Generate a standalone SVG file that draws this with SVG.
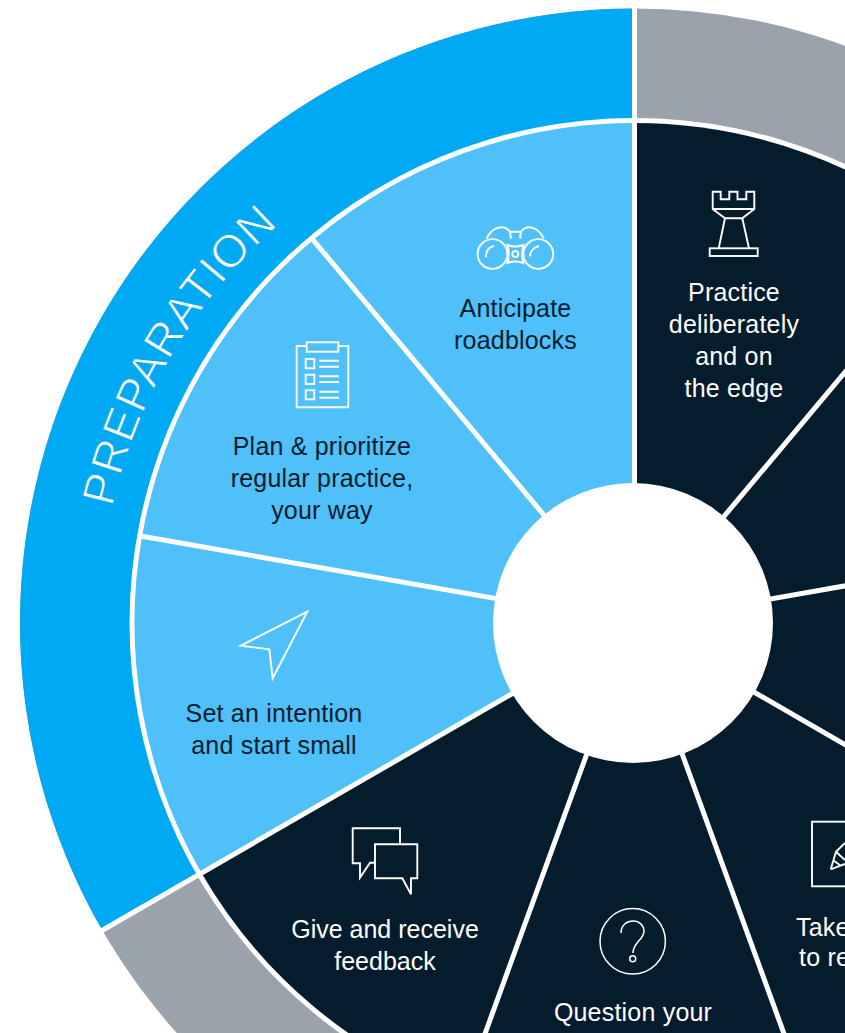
<svg xmlns="http://www.w3.org/2000/svg" width="845" height="1033" viewBox="0 0 845 1033">
<style>
.light{fill:#4fc0fa}
.dark{fill:#051c2c}
.lbl{font-family:"Liberation Sans",Arial,sans-serif;font-size:25px;text-anchor:middle;letter-spacing:.2px}
.lblL{fill:#051c2c}
.lblD{fill:#fff}
.ic{fill:none;stroke:#fff;stroke-width:1.9;stroke-linejoin:miter}
.div{stroke:#fff;stroke-width:5;fill:none}
</style>
<rect width="845" height="1033" fill="#fff"/>
<g id="ring">
<circle cx="634.5" cy="623" r="614.5" fill="#9aa3ab"/>
<path d="M634.5,8.5A614.5,614.5 0 0 0 102.3,930.25L634.5,623Z" fill="#00a9f4"/>
<circle cx="634.5" cy="623" r="505" fill="#fff"/>
<defs><path id="prepArc" d="M112.6,507.6A533,533 0 0 1 366.5,161.4"/></defs>
<text font-family="Liberation Sans,Arial,sans-serif" font-size="46" fill="#fff" stroke="#00a9f4" stroke-width="1" letter-spacing="1"><textPath href="#prepArc">PREPARATION</textPath></text>
</g>
<g id="wedge-roadblocks">
<path class="light" d="M634.5,623L313.1,240A500,500 0 0 1 634.5,123Z"/>
<g class="ic">
<circle cx="492.5" cy="254" r="14.9"/><circle cx="538.3" cy="254" r="14.9"/>
<circle cx="515.3" cy="254" r="3"/>
<path d="M486.7,238.3C490,231 496,227.3 501,227.3C505,227.3 508,229 510,231.7H521C523,229 525,227.3 529,227.3C534,227.3 540,231 543.7,238.3"/>
<path d="M510,231.7L511,238.5M521,231.7L520,238.5"/>
<path d="M507.5,245Q515.4,248 523.3,245Q521,254 523.3,263Q515.4,260 507.5,263Q510,254 507.5,245Z"/>
<path d="M486,257.3C486,251 489,247 494,246M530,256.5C530,251 534,247 539,246"/>
</g>
<text class="lbl lblL" x="515.5" y="317">Anticipate</text>
<text class="lbl lblL" x="515.5" y="349">roadblocks</text>
</g>
<g id="wedge-plan">
<path class="light" d="M634.5,623L142.1,536.2A500,500 0 0 1 313.1,240Z"/>
<g class="ic">
<path d="M306.7,346H296.7V407.3H348.3V346H338.3"/>
<rect x="306.7" y="342.3" width="31.6" height="9.4"/>
<rect x="305.7" y="359" width="8.6" height="9.3"/><rect x="305.7" y="374.7" width="8.6" height="9.3"/><rect x="305.7" y="390.3" width="8.6" height="9"/>
<path d="M319.3,360.7H339M319.3,366.7H339M319.3,376.3H339M319.3,382H339M319.3,391.7H339M319.3,397.7H339"/>
</g>
<text class="lbl lblL" x="322" y="455">Plan &amp; prioritize</text>
<text class="lbl lblL" x="322" y="487">regular practice,</text>
<text class="lbl lblL" x="322" y="519">your way</text>
</g>
<g id="wedge-intention">
<path class="light" d="M634.5,623L201.5,873A500,500 0 0 1 142.1,536.2Z"/>
<path class="ic" d="M307.3,611.7L240.7,645.7L269.3,649.3L272.7,678.3Z"/>
<text class="lbl lblL" x="274" y="722">Set an intention</text>
<text class="lbl lblL" x="274" y="754">and start small</text>
</g>
<g id="wedge-feedback">
<path class="dark" d="M634.5,623L463.5,1092.8A500,500 0 0 1 201.5,873Z"/>
<g class="ic">
<path d="M400,844V828.3H352.7V863.3H360V877.7L370,862.7H375"/>
<path d="M375,844.3H417.3V878.3H411V894.3L402.3,878.3H375Z"/>
</g>
<text class="lbl lblD" x="385" y="938" style="letter-spacing:0">Give and receive</text>
<text class="lbl lblD" x="385" y="970" style="letter-spacing:0">feedback</text>
</g>
<g id="wedge-question">
<path class="dark" d="M634.5,623L805.5,1092.8A500,500 0 0 1 463.5,1092.8Z"/>
<g class="ic" style="stroke-width:1.5">
<circle cx="632.7" cy="941.3" r="32.7"/>
<path d="M621,933C621,925 627,921 633,921C640,921 644,926 644,931C644,940 633,942 633,953"/>
<circle cx="632.7" cy="958.7" r="3"/>
</g>
<text class="lbl lblD" x="633" y="1021">Question your</text>
</g>
<g id="wedge-reflect">
<path class="dark" d="M634.5,623L1067.5,873A500,500 0 0 1 805.5,1092.8Z"/>
<g class="ic">
<rect x="812" y="821.7" width="64" height="64.6"/>
<path d="M830.7,869.3L836,851.7L845,843M830.7,869.3L845,864M836,851.7L845,860M833,860L841,866"/>
</g>
<text class="lbl lblD" x="796" y="936" style="text-anchor:start">Take</text>
<text class="lbl lblD" x="799" y="966" style="text-anchor:start">to re</text>
</g>
<g id="wedge-right-lower"><path class="dark" d="M634.5,623L1126.9,536.2A500,500 0 0 1 1067.5,873Z"/></g>
<g id="wedge-right-upper"><path class="dark" d="M634.5,623L955.9,240A500,500 0 0 1 1126.9,536.2Z"/></g>
<g id="wedge-practice">
<path class="dark" d="M634.5,623L634.5,123A500,500 0 0 1 955.9,240Z"/>
<g class="ic">
<path d="M712.7,191.7H720.7V199.3H729.3V191.7H737.5V199.3H746.3V191.7H754.3V209L742.3,218.3H725L712.7,209Z"/>
<path d="M712.7,209H754.3M725,218.3L718.7,248.3M742.3,218.3L749,248.3"/>
<rect x="709.7" y="248.3" width="48" height="7.7"/>
</g>
<text class="lbl lblD" x="734" y="301">Practice</text>
<text class="lbl lblD" x="734" y="333">deliberately</text>
<text class="lbl lblD" x="734" y="365">and on</text>
<text class="lbl lblD" x="734" y="397">the edge</text>
</g>
<g id="connectors">
<path class="div" d="M634.5,623V0M634.5,623L97.6,933M634.5,623L313.1,240M634.5,623L142.1,536.2M634.5,623L463.5,1092.8M634.5,623L805.5,1092.8M634.5,623L1067.5,873M634.5,623L1126.9,536.2M634.5,623L955.9,240"/>
</g>
<circle id="hub" cx="633" cy="623" r="140" fill="#fff"/>
</svg>
